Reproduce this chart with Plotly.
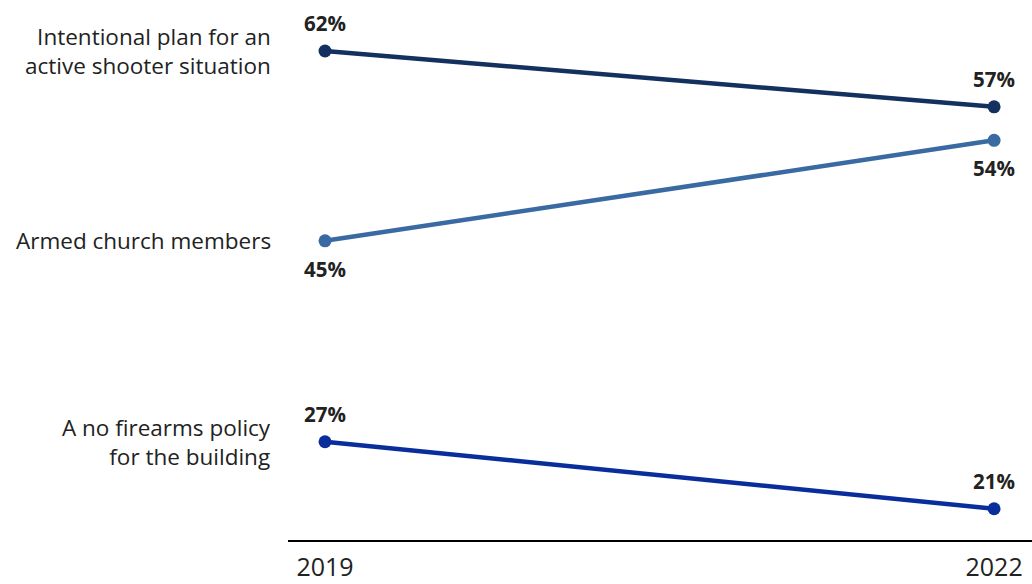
import plotly.graph_objects as go

years = [2019, 2022]
categories = ["Intentional plan for an<br>active shooter situation",
              "Armed church members",
              "A no firearms policy<br>for the building"]
values = [[62, 57], [45, 54], [27, 21]]
colors = ["#13305e", "#3a6aa2", "#0a2d9c"]
# label position per point: above (1) or below (-1)
label_pos = [[1, 1], [-1, -1], [1, 1]]
tick_labels = ["2019", "2022"]

FONT = "Open Sans"

fig = go.Figure()
for cat, vals, col in zip(categories, values, colors):
    fig.add_trace(go.Scatter(
        x=years, y=vals, mode="lines+markers",
        line=dict(color=col, width=4.5),
        marker=dict(color=col, size=13),
        hoverinfo="skip", showlegend=False,
    ))

annotations = []
for cat, vals, pos in zip(categories, values, label_pos):
    annotations.append(dict(
        x=years[0], y=vals[0], xref="x", yref="y", text=cat,
        showarrow=False, xanchor="right", yanchor="middle", align="right",
        xshift=-52, font=dict(family=FONT, size=22.5, color="#222222"),
    ))
    for yr, v, p in zip(years, vals, pos):
        annotations.append(dict(
            x=yr, y=v, xref="x", yref="y", text=f"<b>{v}%</b>",
            showarrow=False, xanchor="center",
            yanchor="bottom" if p > 0 else "top",
            yshift=12 if p > 0 else -12,
            font=dict(family=FONT, size=20.5, color="#222222"),
        ))

fig.update_layout(
    width=1032, height=584,
    margin=dict(l=288, r=0, t=0, b=44),
    paper_bgcolor="white", plot_bgcolor="white",
    annotations=annotations,
    xaxis=dict(range=[2018.834, 2022.17], tickvals=years, ticktext=tick_labels,
               showgrid=False, zeroline=False, showline=True, linecolor="black",
               linewidth=2, ticks="", tickfont=dict(family=FONT, size=25, color="#222222"),
               ticklabelstandoff=4),
    yaxis=dict(range=[18.2, 66.57], visible=False, showgrid=False, zeroline=False),
)

fig.write_html("out.html")
